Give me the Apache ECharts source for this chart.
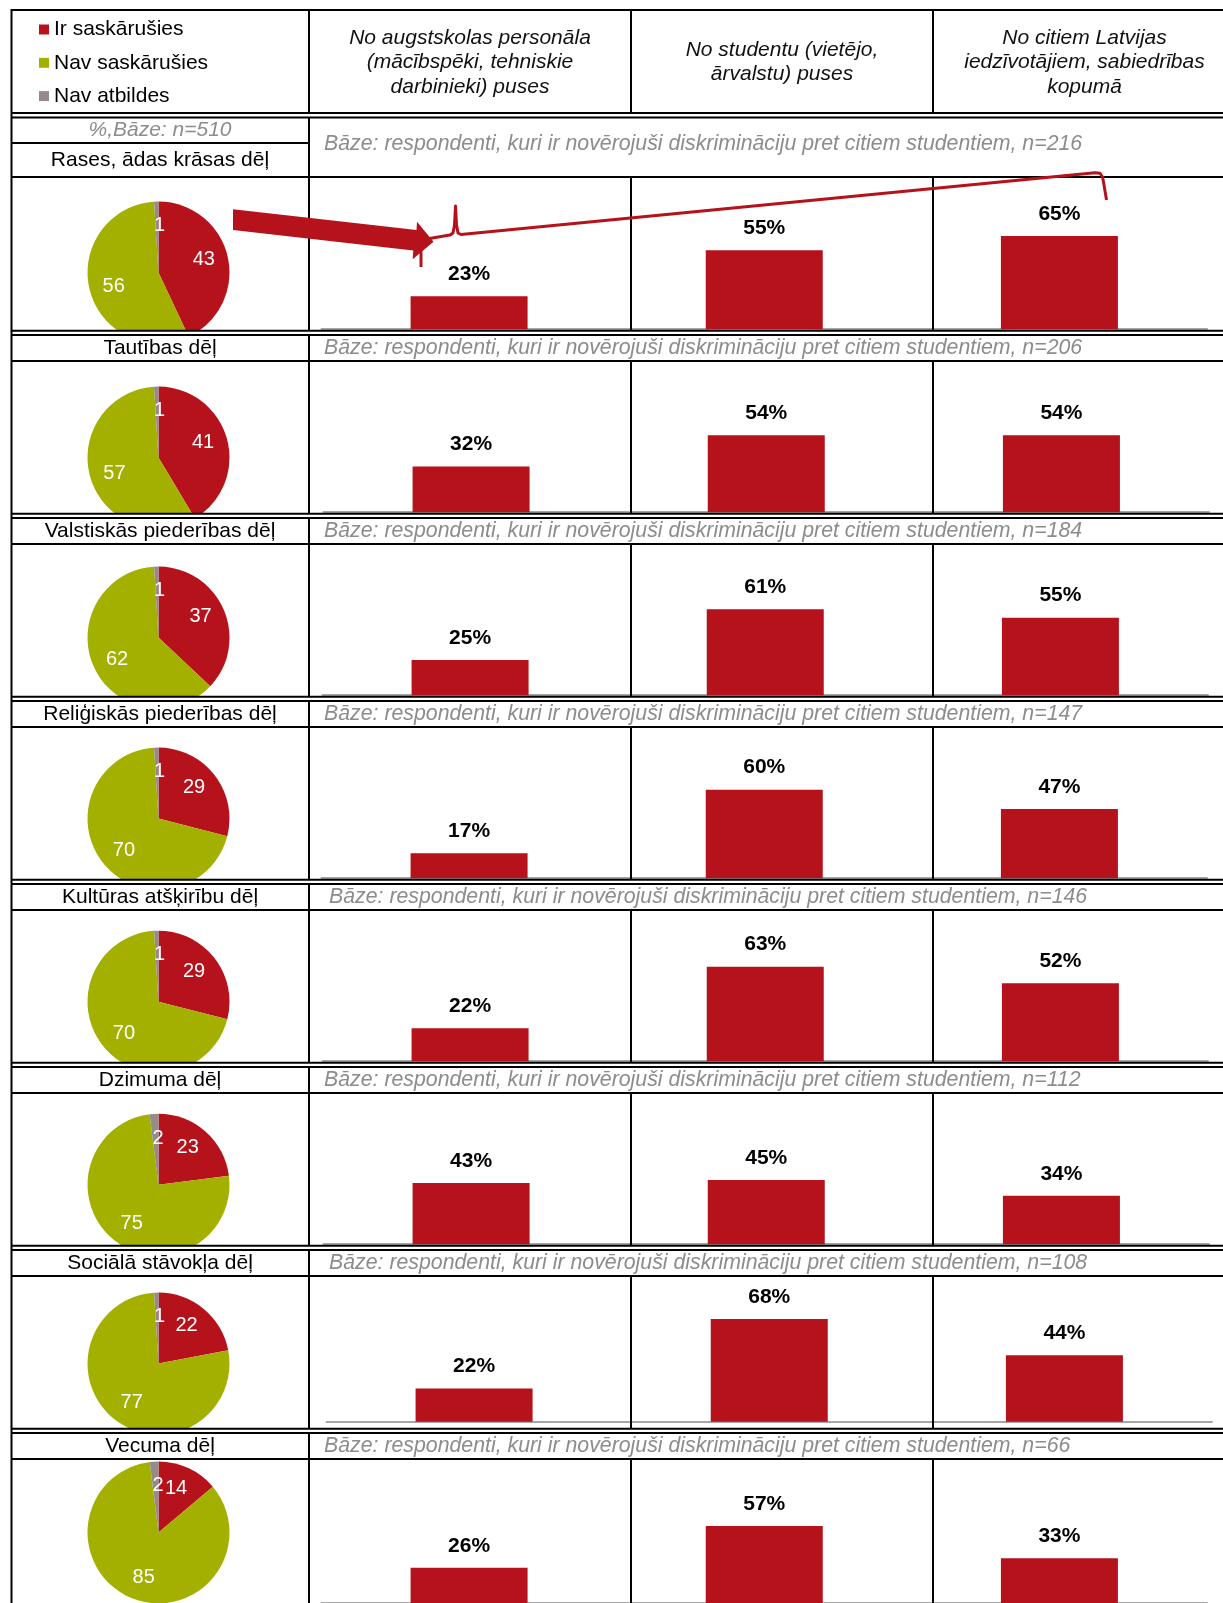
<!DOCTYPE html>
<html>
<head>
<meta charset="utf-8">
<script src="https://cdn.jsdelivr.net/npm/echarts@6/dist/echarts.min.js"></script>
<style>
  html, body { margin: 0; padding: 0; background: #fff; }
  #main { width: 1223px; height: 1603px; }
</style>
</head>
<body>
<div id="main"></div>
<script>
// dati
var legendNames = ['Ir saskārušies', 'Nav saskārušies', 'Nav atbildes']
var rowTitles = ['Rases, ādas krāsas dēļ', 'Tautības dēļ', 'Valstiskās piederības dēļ', 'Reliģiskās piederības dēļ',
  'Kultūras atšķirību dēļ', 'Dzimuma dēļ', 'Sociālā stāvokļa dēļ', 'Vecuma dēļ']
var baseN = [216, 206, 184, 147, 146, 112, 108, 66]
var pieIr = [43, 41, 37, 29, 29, 23, 22, 14]
var pieNav = [56, 57, 62, 70, 70, 75, 77, 85]
var pieNavAtb = [1, 1, 1, 1, 1, 2, 1, 2]
var barCategories = ['No augstskolas personāla\n(mācībspēki, tehniskie\ndarbinieki) puses',
  'No studentu (vietējo,\nārvalstu) puses',
  'No citiem Latvijas\niedzīvotājiem, sabiedrības\nkopumā']
var barStaff = [23, 32, 25, 17, 22, 43, 22, 26]
var barStudents = [55, 54, 61, 60, 63, 45, 68, 57]
var barSociety = [65, 54, 55, 47, 52, 34, 44, 33]
var totalBase = 510

// izkārtojums
var W = 1223
var H = 1603
var FONT = '"Liberation Sans", Arial, sans-serif'
var RED = '#b5121b'
var pieColors = [RED, '#a3b000', '#958b8b']
var colX = [11.5, 309, 631, 933]
var colCenter = [160, 470, 782, 1084.5]
var pieX = 158.5
var pieR = 71
var pieY = [272.5, 457.6, 637.6, 818.6, 1001.7, 1184.7, 1363.6, 1532.4]
var barShift = [0, 2, 1, 0, 1, 2, 5, 0]
var baseTextX = [324, 324, 324, 324, 329, 324, 329, 324]
// katrai rindai sava Excel diagrammas mērogs
var plotH = [143.5, 142.5, 141, 147.5, 150, 142.5, 151, 142.5]
var baseShift = [0, 0, 0, 0, 0, 0, -5.5, 0]

function rowGeom (i) {
  if (i === 0) return { headTop: 117.5, headBottom: 177, nextLine: 330.7 }
  var l2 = 335 + 183 * (i - 1)
  return { headTop: l2, headBottom: l2 + 26, nextLine: l2 + 183 - 4.3 }
}

var grids = []
var xAxes = []
var yAxes = []
var series = []
var graphics = []

function hline (y, x1, x2) {
  graphics.push({ type: 'line', z: 11, silent: true, shape: { x1: x1, y1: y, x2: x2, y2: y }, style: { stroke: '#000', lineWidth: 2 } })
}
function vline (x, y1, y2) {
  graphics.push({ type: 'line', z: 11, silent: true, shape: { x1: x, y1: y1, x2: x, y2: y2 }, style: { stroke: '#000', lineWidth: 2 } })
}
function text (str, x, y, font, color, align) {
  graphics.push({
    type: 'text', z: 12, silent: true,
    style: { text: str, x: x, y: y, font: font, fill: color, align: align, verticalAlign: 'middle', lineHeight: 24.6 }
  })
}

rowTitles.forEach(function (title, i) {
  var g = rowGeom(i)
  var baseline = g.nextLine - 1.5 + baseShift[i]
  grids.push({ left: 321.5 + barShift[i], width: 885.5, top: baseline - plotH[i], height: plotH[i] })
  xAxes.push({
    type: 'category', gridIndex: i, data: barCategories,
    axisLine: { lineStyle: { color: '#a6a6a6', width: 2 } },
    axisTick: { show: false }, axisLabel: { show: false }, splitLine: { show: false }
  })
  yAxes.push({ type: 'value', gridIndex: i, min: 0, max: 100, show: false, splitLine: { show: false } })
  series.push({
    type: 'bar', name: 'bars' + i, xAxisIndex: i, yAxisIndex: i,
    data: [barStaff[i], barStudents[i], barSociety[i]],
    barWidth: 117,
    itemStyle: { color: RED },
    label: { show: true, position: 'top', distance: 11.5, formatter: '{c}%', color: '#000', fontWeight: 'bold', fontSize: 21, fontFamily: FONT },
    silent: true
  })
  var pieData = [
    { name: legendNames[0], value: pieIr[i], itemStyle: { color: pieColors[0] } },
    { name: legendNames[1], value: pieNav[i], itemStyle: { color: pieColors[1] } },
    { name: legendNames[2], value: pieNavAtb[i], itemStyle: { color: pieColors[2] } }
  ]
  series.push({
    type: 'pie', name: 'pie' + i, center: [pieX, pieY[i]], radius: [0, pieR], startAngle: 90, clockwise: true,
    itemStyle: { borderWidth: 0 }, label: { show: false }, labelLine: { show: false },
    data: pieData, silent: true
  })
  // tikai etiķetes
  series.push({
    type: 'pie', name: 'pieLabels' + i, center: [pieX, pieY[i]], radius: [17, pieR], startAngle: 93, clockwise: true,
    itemStyle: { color: 'rgba(0,0,0,0)', borderWidth: 0 },
    label: { show: true, position: 'inside', formatter: '{c}', color: '#fff', fontSize: 20, fontFamily: FONT },
    labelLine: { show: false },
    data: pieData.map(function (d, k) {
      var item = { name: d.name, value: d.value }
      if (k === 2) item.label = { padding: [0, 0, 10, 10] }
      return item
    }),
    silent: true
  })

  // balts fons virsraksta rindai (nogriež apli)
  if (i > 0) {
    graphics.push({ type: 'rect', z: 10, silent: true, shape: { x: 12.5, y: g.headTop - 5, width: 295.5, height: g.headBottom - g.headTop + 5 }, style: { fill: '#fff' } })
  }
  // līnijas
  hline(g.headBottom, colX[0], W)
  hline(g.nextLine, colX[0], W)
  hline(g.nextLine + 4.3, colX[0], W)
  vline(colX[1], g.headTop, g.nextLine)
  vline(colX[2], g.headBottom, g.nextLine)
  vline(colX[3], g.headBottom, g.nextLine)
  // teksti
  var midY = i === 0 ? 160 : (g.headTop + g.headBottom) / 2
  text(title, colCenter[0], midY, '21px ' + FONT, '#000', 'center')
  text('Bāze: respondenti, kuri ir novērojuši diskrimināciju pret citiem studentiem, n=' + baseN[i],
    baseTextX[i], i === 0 ? 144 : midY, 'italic 21.3px ' + FONT, '#8c8c8c', 'left')
})

// galvene
hline(10, colX[0], W)
hline(113, colX[0], W)
hline(117.5, colX[0], W)
hline(143, colX[0], colX[1])
vline(colX[0], 9, H)
vline(colX[1], 10, 113)
vline(colX[2], 10, 113)
vline(colX[3], 10, 113)
text('%,Bāze: n=' + totalBase, colCenter[0], 130.5, 'italic 21px ' + FONT, '#8c8c8c', 'center')
barCategories.forEach(function (c, k) {
  text(c, colCenter[k + 1], k === 1 ? 62.3 : 62.5, 'italic 21px ' + FONT, '#111', 'center')
})

// bulta un iekava
graphics.push({
  type: 'polygon', z: 13, silent: true,
  shape: { points: [[233, 209.3], [416.5, 230], [417, 221.7], [433.5, 241.7], [412.7, 259.3], [413.3, 250.5], [233, 230]] },
  style: { fill: RED }
})
graphics.push({
  type: 'polyline', z: 13, silent: true,
  shape: {
    points: [[421, 267], [421, 242], [422, 240], [425, 239.2], [450, 235], [453, 233], [454.5, 225], [455.5, 206],
      [456.5, 225], [458, 233], [461, 234.5], [1095, 172.8], [1100, 173.2], [1102.5, 177], [1103.5, 182], [1106.5, 200]]
  },
  style: { fill: null, stroke: RED, lineWidth: 3, lineJoin: 'round' }
})

var chart = echarts.init(document.getElementById('main'), null, { renderer: 'canvas' })
chart.setOption({
  animation: false,
  backgroundColor: '#fff',
  legend: {
    orient: 'vertical', left: 39, top: 19, itemWidth: 10, itemHeight: 10, itemGap: 12.3,
    icon: 'rect', selectedMode: false, padding: 0,
    textStyle: { fontSize: 21, fontFamily: FONT, color: '#000', lineHeight: 21 },
    data: legendNames.map(function (n, k) { return { name: n, itemStyle: { color: pieColors[k] } } })
  },
  grid: grids,
  xAxis: xAxes,
  yAxis: yAxes,
  series: series,
  graphic: graphics
})
</script>
</body>
</html>
